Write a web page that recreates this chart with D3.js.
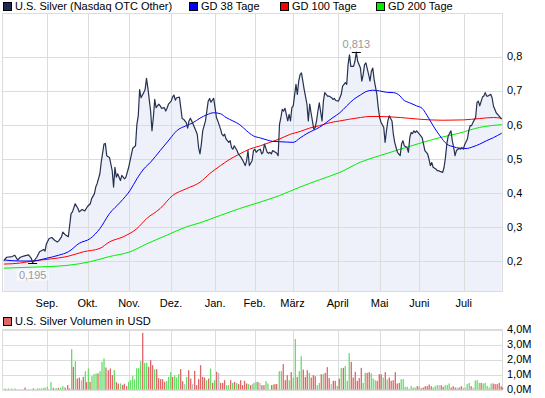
<!DOCTYPE html>
<html>
<head>
<meta charset="utf-8">
<script src="https://cdn.jsdelivr.net/npm/d3@7"></script>
<style>
  body { margin: 0; background: #fff; }
  svg { display: block; font-family: "Liberation Sans", Arial, sans-serif; }
</style>
</head>
<body>
<div id="chart"></div>
<script>
// x positions are trading-session offsets (0 = start of the window, ~end of July)
const monthTicks = [
  { label: "Sep.", day: 32.4 }, { label: "Okt.", day: 62 }, { label: "Nov.", day: 92.3 },
  { label: "Dez.", day: 122.9 }, { label: "Jan.", day: 155 }, { label: "Feb.", day: 183.8 },
  { label: "März", day: 211.5 }, { label: "April", day: 244.5 }, { label: "Mai", day: 275 },
  { label: "Juni", day: 304 }, { label: "Juli", day: 336.3 }
];
const priceTicks = [0.2, 0.3, 0.4, 0.5, 0.6, 0.7, 0.8];
const volumeTicks = [0, 1, 2, 3, 4]; // in millions USD

// [day, close]
const price = [
  [1,0.201],[3,0.211],[7,0.213],[9,0.217],[11,0.203],[13,0.211],[16,0.215],[19,0.218],[21,0.208],[22,0.195],
  [25,0.211],[27,0.227],[30,0.234],[31,0.229],[32,0.25],[34,0.266],[36,0.269],[38,0.261],[40,0.256],[41,0.259],
  [43,0.271],[44,0.285],[46,0.276],[48,0.271],[50,0.339],[51,0.344],[53,0.368],[55,0.354],[56,0.344],[58,0.351],
  [60,0.347],[62,0.36],[64,0.368],[65,0.383],[67,0.397],[68,0.417],[69,0.427],[71,0.456],[72,0.49],[74,0.543],
  [75,0.545],[76,0.509],[78,0.504],[80,0.465],[81,0.417],[82,0.475],[83,0.446],[84,0.456],[86,0.436],[87,0.451],
  [89,0.441],[90,0.446],[92,0.475],[93,0.494],[95,0.531],[97,0.538],[98,0.601],[99,0.626],[100,0.703],[101,0.679],
  [103,0.694],[104,0.703],[105,0.736],[106,0.708],[108,0.64],[109,0.582],[110,0.621],[111,0.674],[112,0.65],[114,0.66],
  [115,0.655],[116,0.648],[118,0.65],[119,0.64],[120,0.648],[121,0.66],[123,0.669],[124,0.681],[125,0.687],[126,0.672],
  [127,0.679],[129,0.681],[130,0.65],[131,0.618],[132,0.616],[134,0.606],[135,0.59],[136,0.611],[137,0.619],[138,0.611],
  [140,0.592],[141,0.582],[142,0.572],[143,0.533],[144,0.514],[145,0.543],[146,0.582],[148,0.611],[149,0.64],[150,0.669],
  [151,0.677],[152,0.666],[154,0.677],[155,0.65],[156,0.621],[157,0.611],[159,0.587],[160,0.572],[161,0.567],[162,0.572],
  [163,0.558],[165,0.548],[166,0.553],[167,0.533],[168,0.528],[169,0.538],[171,0.524],[172,0.514],[173,0.509],[174,0.504],
  [176,0.489],[177,0.48],[178,0.494],[179,0.524],[180,0.48],[182,0.494],[183,0.524],[184,0.528],[185,0.519],[186,0.524],
  [188,0.528],[189,0.514],[190,0.519],[191,0.543],[193,0.519],[194,0.516],[195,0.519],[196,0.514],[197,0.524],[199,0.519],
  [200,0.516],[201,0.509],[202,0.601],[203,0.621],[204,0.645],[205,0.64],[206,0.648],[208,0.611],[209,0.63],[210,0.611],
  [211,0.65],[212,0.655],[214,0.718],[215,0.689],[216,0.728],[217,0.747],[218,0.752],[219,0.728],[220,0.703],[222,0.66],
  [223,0.611],[224,0.66],[225,0.635],[227,0.587],[228,0.592],[229,0.611],[230,0.64],[231,0.664],[233,0.611],[234,0.669],
  [235,0.694],[236,0.689],[237,0.684],[238,0.684],[240,0.679],[241,0.674],[242,0.677],[243,0.671],[245,0.669],[246,0.679],
  [247,0.689],[248,0.713],[250,0.723],[251,0.718],[252,0.776],[253,0.805],[254,0.771],[256,0.771],[257,0.786],[258,0.813],
  [259,0.786],[261,0.766],[262,0.728],[263,0.747],[264,0.776],[265,0.781],[267,0.747],[268,0.728],[269,0.757],[270,0.766],
  [271,0.732],[273,0.689],[274,0.65],[275,0.621],[276,0.607],[278,0.592],[279,0.548],[280,0.582],[281,0.611],[282,0.626],
  [284,0.611],[285,0.572],[286,0.548],[287,0.533],[288,0.519],[290,0.509],[291,0.543],[292,0.553],[293,0.538],[295,0.533],
  [296,0.519],[297,0.562],[298,0.577],[299,0.574],[300,0.582],[301,0.577],[302,0.582],[304,0.572],[305,0.567],[306,0.562],
  [307,0.543],[308,0.524],[310,0.514],[311,0.499],[312,0.48],[313,0.489],[314,0.475],[316,0.47],[317,0.465],[318,0.465],
  [319,0.463],[321,0.46],[322,0.475],[323,0.504],[324,0.543],[325,0.567],[327,0.582],[328,0.553],[329,0.533],[330,0.509],
  [331,0.524],[333,0.531],[334,0.528],[335,0.533],[336,0.528],[337,0.541],[339,0.558],[340,0.582],[341,0.597],[342,0.597],
  [343,0.606],[345,0.621],[346,0.665],[347,0.669],[348,0.655],[350,0.681],[351,0.684],[352,0.694],[353,0.684],[354,0.684],
  [356,0.689],[357,0.679],[358,0.655],[359,0.645],[360,0.635],[362,0.626],[363,0.621],[364,0.616]
];

// moving averages [day, value]
const gd38 = [
  [1,0.203],[13,0.2],[22,0.2],[32,0.208],[41,0.217],[48,0.227],[56,0.252],[64,0.266],[71,0.295],[78,0.339],
  [86,0.373],[93,0.407],[98,0.441],[103,0.47],[108,0.49],[115,0.524],[122,0.558],[127,0.582],[134,0.597],[139,0.606],
  [144,0.619],[149,0.629],[154,0.635],[159,0.632],[163,0.621],[168,0.611],[173,0.6],[178,0.582],[183,0.567],[188,0.561],
  [193,0.555],[197,0.551],[202,0.55],[207,0.549],[212,0.548],[217,0.561],[222,0.574],[227,0.584],[231,0.592],[236,0.606],
  [241,0.621],[246,0.635],[251,0.655],[256,0.674],[261,0.687],[265,0.697],[270,0.701],[275,0.699],[280,0.695],[285,0.694],
  [290,0.684],[292,0.674],[297,0.664],[302,0.655],[306,0.648],[309,0.631],[314,0.597],[319,0.567],[324,0.543],[329,0.535],
  [333,0.531],[338,0.53],[343,0.535],[348,0.543],[353,0.553],[358,0.562],[364,0.575]
];
const gd100 = [
  [1,0.191],[13,0.194],[22,0.2],[35,0.206],[47,0.213],[59,0.227],[71,0.237],[78,0.256],[88,0.271],[98,0.295],
  [105,0.324],[115,0.354],[124,0.392],[134,0.412],[144,0.431],[151,0.456],[159,0.48],[166,0.499],[173,0.514],[180,0.528],
  [188,0.538],[195,0.548],[202,0.558],[210,0.572],[217,0.58],[224,0.59],[231,0.597],[239,0.606],[246,0.611],[253,0.616],
  [261,0.621],[268,0.624],[275,0.624],[282,0.623],[290,0.621],[304,0.616],[321,0.613],[336,0.614],[348,0.618],[358,0.621],
  [364,0.619]
];
const gd200 = [
  [1,0.179],[22,0.182],[47,0.187],[64,0.198],[78,0.213],[93,0.227],[105,0.25],[120,0.276],[134,0.3],[144,0.312],
  [159,0.334],[173,0.354],[188,0.373],[202,0.392],[217,0.417],[231,0.438],[246,0.46],[261,0.49],[275,0.509],[290,0.528],
  [304,0.545],[319,0.562],[333,0.575],[348,0.592],[364,0.6]
];

// volume [day, million USD, direction: g = up, r = down, n = unchanged]
const volume = [
  [1.8,0.07,"g"],[4.3,0.07,"g"],[6.7,0.07,"n"],[9.1,0.07,"g"],[16.4,0.13,"r"],[22.5,0.07,"r"],[25.4,0.07,"g"],[26.8,0.07,"g"],
  [28.3,0.07,"g"],[29.8,0.09,"g"],[31.0,0.13,"g"],[32.7,0.18,"g"],[35.3,0.49,"g"],[37.0,0.11,"r"],[39.0,0.09,"g"],[40.7,0.11,"r"],
  [42.4,0.13,"g"],[43.9,0.22,"g"],[45.6,0.13,"r"],[47.5,0.29,"r"],[48.7,0.07,"r"],[50.4,2.69,"g"],[51.6,1.51,"r"],[53.1,1.89,"g"],
  [54.5,0.73,"r"],[56.0,0.8,"r"],[57.5,0.62,"n"],[58.9,0.84,"r"],[60.4,1.22,"g"],[61.3,0.49,"r"],[62.6,1.4,"g"],[63.8,0.51,"r"],
  [65.2,0.89,"g"],[66.7,1.02,"g"],[68.2,1.07,"g"],[69.6,1.07,"r"],[71.1,1.22,"g"],[72.5,1.84,"g"],[74.0,2.07,"g"],[75.4,1.47,"r"],
  [77.1,1.29,"r"],[78.6,1.4,"r"],[80.1,0.96,"r"],[81.5,1.29,"g"],[83.0,0.49,"r"],[84.4,0.4,"r"],[86.1,0.4,"g"],[87.6,0.29,"r"],
  [88.8,0.38,"r"],[90.5,0.22,"r"],[91.9,0.51,"g"],[93.4,0.62,"g"],[94.9,0.89,"g"],[96.3,0.67,"g"],[97.8,1.42,"g"],[99.2,1.42,"g"],
  [100.7,1.89,"g"],[102.2,3.78,"r"],[103.6,1.78,"g"],[105.1,1.78,"g"],[106.5,1.51,"r"],[108.0,1.96,"r"],[109.4,1.62,"r"],[110.9,1.33,"g"],
  [112.4,1.36,"r"],[113.8,0.76,"r"],[115.3,0.69,"r"],[116.7,0.69,"r"],[118.2,0.51,"r"],[119.7,0.56,"g"],[121.1,0.84,"g"],[122.6,1.16,"g"],
  [124.0,0.84,"r"],[125.5,0.93,"g"],[126.9,0.8,"g"],[128.4,1.02,"g"],[129.9,1.36,"r"],[131.3,0.56,"r"],[132.8,0.36,"n"],[134.2,0.84,"g"],
  [135.7,1.29,"r"],[137.2,0.73,"r"],[138.6,0.36,"n"],[140.1,1.24,"r"],[141.5,0.29,"r"],[143.0,0.69,"r"],[144.4,1.62,"r"],[145.9,0.84,"r"],
  [147.3,0.8,"r"],[148.8,0.62,"g"],[150.3,0.73,"r"],[151.7,1.4,"g"],[153.2,0.44,"r"],[154.6,0.62,"g"],[156.1,1.18,"r"],[157.6,1.11,"n"],
  [159.0,0.44,"r"],[160.5,0.44,"r"],[161.9,0.62,"r"],[163.4,0.29,"g"],[164.8,0.29,"g"],[166.3,0.62,"r"],[167.8,0.44,"g"],[169.2,0.51,"r"],
  [170.7,0.44,"g"],[172.1,0.36,"r"],[173.6,0.62,"r"],[175.0,0.29,"r"],[176.5,0.58,"r"],[178.0,0.4,"r"],[179.4,0.36,"g"],[180.9,0.29,"r"],
  [182.3,0.36,"n"],[183.3,0.44,"g"],[184.8,0.51,"g"],[186.2,0.51,"r"],[187.7,0.44,"n"],[189.1,0.29,"r"],[190.6,0.29,"r"],[192.1,0.56,"g"],
  [193.5,0.4,"g"],[196.2,0.29,"r"],[197.4,0.33,"g"],[198.6,0.36,"r"],[199.9,0.36,"r"],[201.8,1.22,"g"],[203.3,1.22,"g"],[204.7,1.69,"r"],
  [206.2,0.62,"r"],[207.6,0.96,"r"],[209.1,0.62,"g"],[210.5,1.16,"r"],[212.0,0.78,"g"],[213.5,3.36,"g"],[214.9,0.84,"r"],[216.4,1.22,"g"],
  [217.8,2.22,"g"],[219.3,1.33,"r"],[220.8,0.84,"r"],[222.2,1.29,"r"],[223.7,1.11,"g"],[225.1,0.8,"r"],[226.6,0.96,"r"],[228.0,0.89,"r"],
  [229.5,0.29,"g"],[231.0,0.44,"g"],[232.4,1.02,"r"],[233.9,1.02,"g"],[235.3,1.11,"r"],[236.8,1.49,"r"],[238.2,0.76,"r"],[239.7,0.36,"n"],
  [241.2,0.58,"r"],[242.6,0.58,"r"],[244.1,0.24,"g"],[245.5,0.73,"r"],[247.0,1.44,"g"],[248.5,1.44,"r"],[249.9,1.56,"g"],[251.4,0.58,"g"],
  [252.8,2.42,"g"],[254.3,1.84,"r"],[255.7,0.8,"r"],[257.2,1.18,"r"],[258.7,0.58,"r"],[260.1,0.76,"r"],[261.6,1.44,"r"],[263.0,0.44,"g"],
  [264.5,1.11,"g"],[265.9,1.11,"r"],[267.4,1.16,"r"],[268.9,1.07,"g"],[270.3,0.73,"g"],[271.8,0.62,"g"],[273.2,0.58,"r"],[274.7,1.02,"r"],
  [276.1,1.02,"r"],[277.6,0.8,"g"],[279.1,1.16,"r"],[280.5,0.67,"g"],[282.0,0.8,"r"],[283.4,0.58,"r"],[284.9,0.62,"r"],[286.4,1.16,"r"],
  [287.8,0.4,"r"],[289.3,0.44,"r"],[290.7,0.69,"g"],[292.2,0.69,"g"],[293.6,0.18,"g"],[295.1,0.18,"g"],[296.6,0.07,"n"],[298.0,0.24,"g"],
  [299.5,0.13,"g"],[300.9,0.13,"g"],[302.4,0.22,"r"],[303.8,0.22,"g"],[305.3,0.09,"r"],[306.8,0.13,"r"],[308.2,0.22,"r"],[309.7,0.22,"r"],
  [311.1,0.33,"r"],[312.6,0.22,"r"],[314.0,0.13,"g"],[315.5,0.22,"g"],[317.0,0.29,"g"],[318.4,0.29,"n"],[319.9,0.29,"r"],[321.3,0.18,"r"],
  [322.8,0.29,"g"],[324.3,0.29,"g"],[325.7,0.4,"g"],[327.2,0.13,"r"],[328.6,0.22,"r"],[330.1,0.13,"r"],[331.5,0.13,"n"],[333.0,0.13,"r"],
  [334.5,0.22,"r"],[335.9,0.13,"n"],[337.4,0.13,"n"],[338.8,0.36,"g"],[340.3,0.44,"g"],[341.7,0.22,"r"],[343.2,0.13,"n"],[344.7,0.6,"g"],
  [346.1,0.62,"g"],[347.6,0.44,"g"],[349.0,0.44,"r"],[350.5,0.4,"g"],[351.9,0.44,"g"],[353.4,0.24,"g"],[354.9,0.13,"g"],[356.3,0.4,"g"],
  [357.8,0.4,"r"],[359.2,0.36,"r"],[360.7,0.36,"r"],[362.2,0.44,"r"],[363.6,0.22,"r"],[364.6,0.13,"r"]
];

const lowMark = { day: 22, value: 0.195, label: "0,195" };
const highMark = { day: 258, value: 0.813, label: "0,813" };

const legendItems = [
  { label: "U.S. Silver (Nasdaq OTC Other)", color: "#1c2a4d", x: 3 },
  { label: "GD 38 Tage", color: "#0000ff", x: 189 },
  { label: "GD 100 Tage", color: "#ff0000", x: 280 },
  { label: "GD 200 Tage", color: "#00ee00", x: 376 }
];

const width = 545;
const height = 398;
const grid = "#dcdcdc";
const comma = (f) => (v) => d3.format(f)(v).replace(".", ",");

const main = { left: 2.5, right: 502.5, top: 13.5, bottom: 291.5 };
const vol = { top: 329.5, bottom: 389.5 };

const svg = d3.select("#chart").append("svg")
  .attr("width", width)
  .attr("height", height)
  .attr("viewBox", [0, 0, width, height]);

const x = d3.scaleLinear().domain([0, 364.6]).range([main.left, main.right]);
const y = d3.scaleLinear().domain([0.2, 0.8]).range([261, 56.5]);
const yVol = d3.scaleLinear().domain([0, 4]).range([vol.bottom, vol.top]);

/* MAIN PANEL */
svg.append("rect")
  .attr("x", main.left).attr("y", main.top)
  .attr("width", main.right - main.left).attr("height", main.bottom - main.top)
  .attr("fill", "#fff");

const area = d3.area()
  .x((d) => x(d[0]))
  .y0(main.bottom)
  .y1((d) => y(d[1]));

svg.append("path")
  .datum(price)
  .attr("d", area)
  .attr("fill", "#eef1f9");

// grid
svg.append("g")
  .selectAll("line")
  .data(priceTicks)
  .join("line")
  .attr("x1", main.left).attr("x2", main.right)
  .attr("y1", (d) => Math.round(y(d)) + 0.5).attr("y2", (d) => Math.round(y(d)) + 0.5)
  .attr("stroke", grid);

svg.append("g")
  .selectAll("line")
  .data(monthTicks)
  .join("line")
  .attr("x1", (d) => Math.round(x(d.day)) + 0.5).attr("x2", (d) => Math.round(x(d.day)) + 0.5)
  .attr("y1", main.top).attr("y2", main.bottom)
  .attr("stroke", grid);

svg.append("rect")
  .attr("x", main.left).attr("y", main.top)
  .attr("width", main.right - main.left).attr("height", main.bottom - main.top)
  .attr("fill", "none")
  .attr("stroke", grid);

const line = d3.line()
  .x((d) => x(d[0]))
  .y((d) => y(d[1]));

[[gd200, "#00ee00"], [gd100, "#ff0000"], [gd38, "#0000ff"]].forEach(([data, color]) => {
  svg.append("path")
    .datum(data)
    .attr("d", line.curve(d3.curveMonotoneX))
    .attr("fill", "none")
    .attr("stroke", color)
    .attr("stroke-width", 1);
});

svg.append("path")
  .datum(price)
  .attr("d", line.curve(d3.curveLinear))
  .attr("fill", "none")
  .attr("stroke", "#263150")
  .attr("stroke-width", 1.2)
  .attr("stroke-linejoin", "round");

// high / low markers
[[lowMark, 12], [highMark, -8]].forEach(([m, dy]) => {
  const cx = x(m.day);
  const cy = Math.round(y(m.value)) + 0.5;
  svg.append("line")
    .attr("x1", cx - 4.5).attr("x2", cx + 4.5)
    .attr("y1", cy).attr("y2", cy)
    .attr("stroke", "#000");
  if (dy > 0) {
    svg.append("rect")
      .attr("x", cx - 16).attr("y", cy + dy - 6)
      .attr("width", 32).attr("height", 11)
      .attr("fill", "#fff").attr("opacity", 0.6);
  }
  svg.append("text")
    .attr("x", cx).attr("y", cy + dy)
    .attr("dy", "0.35em")
    .attr("text-anchor", "middle")
    .attr("font-size", 11)
    .attr("fill", "#999")
    .text(m.label);
});

// axis labels
svg.append("g")
  .selectAll("text")
  .data(priceTicks)
  .join("text")
  .attr("x", 507)
  .attr("y", (d) => y(d))
  .attr("dy", "0.35em")
  .attr("font-size", 11)
  .text(comma(".1f"));

svg.append("g")
  .selectAll("text")
  .data(monthTicks)
  .join("text")
  .attr("x", (d) => x(d.day))
  .attr("y", 303)
  .attr("dy", "0.35em")
  .attr("text-anchor", "middle")
  .attr("font-size", 11)
  .text((d) => d.label);

// legend
const legend = svg.append("g")
  .selectAll("g")
  .data(legendItems)
  .join("g")
  .attr("transform", (d) => `translate(${d.x}, 2)`);

legend.append("rect")
  .attr("x", 0.5).attr("y", 0.5)
  .attr("width", 8).attr("height", 8)
  .attr("fill", (d) => d.color)
  .attr("stroke", "#000");

legend.append("text")
  .attr("x", 12).attr("y", 4.5)
  .attr("dy", "0.35em")
  .attr("font-size", 11)
  .text((d) => d.label);

/* VOLUME PANEL */
const volLegend = svg.append("g").attr("transform", "translate(3, 317)");
volLegend.append("rect")
  .attr("x", 0.5).attr("y", 0.5)
  .attr("width", 8).attr("height", 8)
  .attr("fill", "#dd6666")
  .attr("stroke", "#000");
volLegend.append("text")
  .attr("x", 12).attr("y", 4.5)
  .attr("dy", "0.35em")
  .attr("font-size", 11)
  .text("U.S. Silver Volumen in USD");

svg.append("g")
  .selectAll("line")
  .data(volumeTicks)
  .join("line")
  .attr("x1", main.left).attr("x2", main.right)
  .attr("y1", (d) => Math.round(yVol(d)) + 0.5).attr("y2", (d) => Math.round(yVol(d)) + 0.5)
  .attr("stroke", grid);

svg.append("g")
  .selectAll("line")
  .data(monthTicks)
  .join("line")
  .attr("x1", (d) => Math.round(x(d.day)) + 0.5).attr("x2", (d) => Math.round(x(d.day)) + 0.5)
  .attr("y1", vol.top).attr("y2", vol.bottom)
  .attr("stroke", grid);

svg.append("rect")
  .attr("x", main.left).attr("y", vol.top)
  .attr("width", main.right - main.left).attr("height", vol.bottom - vol.top)
  .attr("fill", "none")
  .attr("stroke", grid);

const barColor = { g: "#66dd66", r: "#dd6666", n: "#bbbbbb" };

svg.append("g")
  .selectAll("rect")
  .data(volume)
  .join("rect")
  .attr("x", (d) => x(d[0]) - 0.6)
  .attr("width", 1.3)
  .attr("y", (d) => yVol(d[1]))
  .attr("height", (d) => yVol(0) - yVol(d[1]))
  .attr("fill", (d) => barColor[d[2]]);

svg.append("g")
  .selectAll("text")
  .data(volumeTicks)
  .join("text")
  .attr("x", 507)
  .attr("y", (d) => yVol(d))
  .attr("dy", "0.35em")
  .attr("font-size", 11)
  .text((d) => comma(".1f")(d) + "M");
</script>
</body>
</html>
